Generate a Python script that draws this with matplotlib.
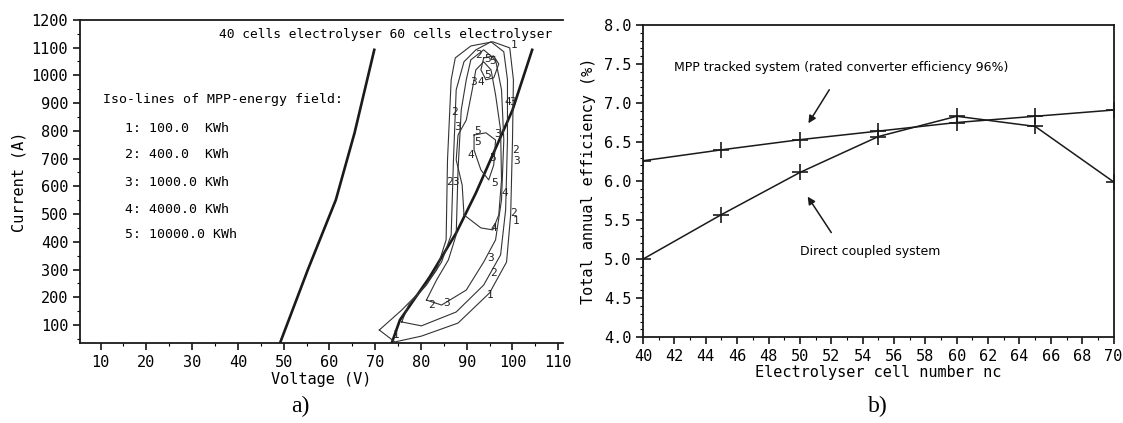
import matplotlib
matplotlib.use("Agg")
import matplotlib.pyplot as plt
from matplotlib.ticker import MultipleLocator

# ---- panel a: current / voltage plane ----
# electrolyser characteristics (V, A)
el40_v = [49.3, 55.3, 61.4, 65.5, 69.8]
el40_i = [39, 300, 551, 793, 1092]
el60_v = [73.7, 75.4, 81.9, 87.7, 92.0, 100.0, 104.3]
el60_i = [39, 118, 273, 432, 576, 875, 1092]

# iso-lines of the MPP-energy field, one closed trace per level
iso1_v = [70.9, 74.3, 80.1, 88.1, 95.0, 98.7, 99.6, 100.0, 100.2, 99.4, 95.7, 90.9, 87.5, 86.6, 85.8, 85.5, 83.4, 80.1, 75.8, 70.9]
iso1_i = [82, 39, 60, 107, 216, 327, 497, 767, 984, 1099, 1121, 1106, 1063, 984, 695, 407, 298, 226, 154, 82]
iso2_v = [75.8, 80.1, 87.7, 93.7, 97.4, 98.5, 98.9, 98.9, 98.1, 95.3, 92.0, 89.4, 87.7, 87.1, 86.6, 84.5, 81.2, 77.3, 75.8]
iso2_i = [111, 97, 147, 244, 353, 515, 767, 984, 1085, 1121, 1092, 1049, 948, 695, 425, 327, 244, 172, 111]
iso3_v = [81.2, 84.5, 89.9, 93.7, 96.3, 97.6, 98.1, 97.6, 96.3, 93.7, 90.9, 89.9, 88.8, 88.1, 87.7, 86.0, 83.4, 81.2]
iso3_i = [190, 172, 226, 327, 407, 551, 767, 948, 1056, 1092, 1056, 984, 875, 659, 425, 335, 262, 190]
iso4_v = [89.4, 93.1, 95.7, 97.0, 97.6, 97.4, 96.3, 95.3, 93.7, 92.0, 91.2, 89.9, 88.1, 87.7, 89.0, 89.4]
iso4_i = [497, 450, 443, 497, 623, 803, 930, 1020, 1049, 1020, 948, 839, 785, 695, 605, 497]
iso5a_v = [91.6, 94.2, 96.3, 95.9, 94.8, 93.1, 91.6, 91.6]
iso5a_i = [785, 793, 767, 677, 623, 659, 731, 785]
iso5b_v = [93.7, 95.9, 97.0, 95.9, 94.2, 93.1, 93.7]
iso5b_i = [1063, 1070, 1041, 991, 984, 1020, 1063]

# level numbers written along the iso-lines
iso_lbl = ["1", "2", "3", "4", "2", "3", "4", "3", "5", "5", "4", "2", "3", "3", "5", "23", "5",
           "4", "4", "2", "1", "3", "2", "1", "2", "3", "1", "5", "5", "5"]
iso_lbl_v = [100.4, 92.6, 91.6, 93.0, 87.4, 88.0, 98.9, 100.0, 92.4, 92.4, 90.9, 100.6, 100.9, 96.8, 95.7, 87.0, 96.0,
             98.4, 95.9, 100.2, 100.8, 95.3, 95.9, 95.0, 82.3, 85.6, 74.6, 94.5, 95.6, 94.6]
iso_lbl_i = [1110, 1075, 976, 976, 868, 814, 904, 904, 800, 760, 713, 730, 690, 790, 702, 616, 612,
             576, 450, 504, 475, 342, 288, 208, 172, 179, 64, 1060, 1050, 1000]

legend_rows = ["1: 100.0  KWh", "2: 400.0  KWh", "3: 1000.0 KWh", "4: 4000.0 KWh", "5: 10000.0 KWh"]
legend_i = [810, 713, 612, 518, 425]

v_ticks = [10, 20, 30, 40, 50, 60, 70, 80, 90, 100, 110]
i_ticks = [100, 200, 300, 400, 500, 600, 700, 800, 900, 1000, 1100, 1200]

# ---- panel b: annual efficiency vs cell number ----
cells = [40, 45, 50, 55, 60, 65, 70]
eff_mpp = [6.26, 6.40, 6.53, 6.64, 6.75, 6.83, 6.91]
eff_direct = [5.00, 5.57, 6.11, 6.57, 6.83, 6.70, 5.99]
cell_ticks = list(range(40, 71, 2))
eff_ticks = [4.0, 4.5, 5.0, 5.5, 6.0, 6.5, 7.0, 7.5, 8.0]

mono = "DejaVu Sans Mono"

fig = plt.figure(figsize=(11.23, 4.23), dpi=100)
ax1 = fig.add_axes([0.0712, 0.189, 0.430, 0.764])
ax2 = fig.add_axes([0.5726, 0.203, 0.419, 0.738])

# panel a
ax1.plot(el40_v, el40_i, color="#1a1a1a", lw=1.9)
ax1.plot(el60_v, el60_i, color="#1a1a1a", lw=1.9)
for vv, ii in [(iso1_v, iso1_i), (iso2_v, iso2_i), (iso3_v, iso3_i),
               (iso4_v, iso4_i), (iso5a_v, iso5a_i), (iso5b_v, iso5b_i)]:
    ax1.plot(vv, ii, color="#333333", lw=0.8)
for t, vv, ii in zip(iso_lbl, iso_lbl_v, iso_lbl_i):
    ax1.text(vv, ii, t, fontsize=8, family=mono, ha="center", va="center", color="#222222")

ax1.text(35.9, 1146, "40 cells electrolyser 60 cells electrolyser", fontsize=9.3,
         family=mono, va="center")
ax1.text(10.6, 912, "Iso-lines of MPP-energy field:", fontsize=9.5, family=mono, va="center")
for row, ii in zip(legend_rows, legend_i):
    ax1.text(15.4, ii, row, fontsize=9.5, family=mono, va="center")

ax1.set_xlim(5.5, 111)
ax1.set_ylim(35, 1200)
ax1.set_xticks(v_ticks)
ax1.set_yticks(i_ticks)
ax1.xaxis.set_minor_locator(MultipleLocator(5))
ax1.yaxis.set_minor_locator(MultipleLocator(50))
ax1.spines["right"].set_visible(False)
ax1.set_xlabel("Voltage (V)", family=mono, fontsize=11)
ax1.set_ylabel("Current (A)", family=mono, fontsize=11)
ax1.xaxis.set_label_coords(0.5, -0.09)
ax1.yaxis.set_label_coords(-0.11, 0.5)

# panel b
ax2.plot(cells, eff_mpp, color="#1a1a1a", lw=1.1, marker="+", ms=11, mew=1.2)
ax2.plot(cells, eff_direct, color="#1a1a1a", lw=1.1, marker="+", ms=11, mew=1.2)
ax2.annotate("", xy=(50.45, 6.71), xytext=(51.97, 7.20),
             arrowprops=dict(arrowstyle="-|>", color="#1a1a1a", lw=1.1, mutation_scale=11))
ax2.annotate("", xy=(50.4, 5.83), xytext=(52.1, 5.31),
             arrowprops=dict(arrowstyle="-|>", color="#1a1a1a", lw=1.1, mutation_scale=11))
ax2.text(42.0, 7.46, "MPP tracked system (rated converter efficiency 96%)", fontsize=9, va="center")
ax2.text(50.0, 5.10, "Direct coupled system", fontsize=9, va="center")

ax2.set_xlim(40, 70)
ax2.set_ylim(4.0, 8.0)
ax2.set_xticks(cell_ticks)
ax2.set_yticks(eff_ticks)
ax2.set_yticklabels([f"{t:.1f}" for t in eff_ticks])
ax2.xaxis.set_minor_locator(MultipleLocator(1))
ax2.yaxis.set_minor_locator(MultipleLocator(0.1))
ax2.set_xlabel("Electrolyser cell number nc", family=mono, fontsize=11)
ax2.set_ylabel("Total annual efficiency (%)", family=mono, fontsize=11)
ax2.xaxis.set_label_coords(0.5, -0.09)
ax2.yaxis.set_label_coords(-0.10, 0.5)

for ax in (ax1, ax2):
    for s in ax.spines.values():
        s.set_linewidth(1.3)
        s.set_color("#1a1a1a")
    ax.tick_params(which="major", length=5, width=1.1, labelsize=11, direction="out")
    ax.tick_params(which="minor", length=2.5, width=0.8, direction="out")
    for lab in ax.get_xticklabels() + ax.get_yticklabels():
        lab.set_family(mono)

fig.text(0.267, 0.04, "a)", family="Liberation Serif", fontsize=17, ha="center", va="center")
fig.text(0.782, 0.04, "b)", family="Liberation Serif", fontsize=17, ha="center", va="center")

fig.savefig("out.png", dpi=100)
